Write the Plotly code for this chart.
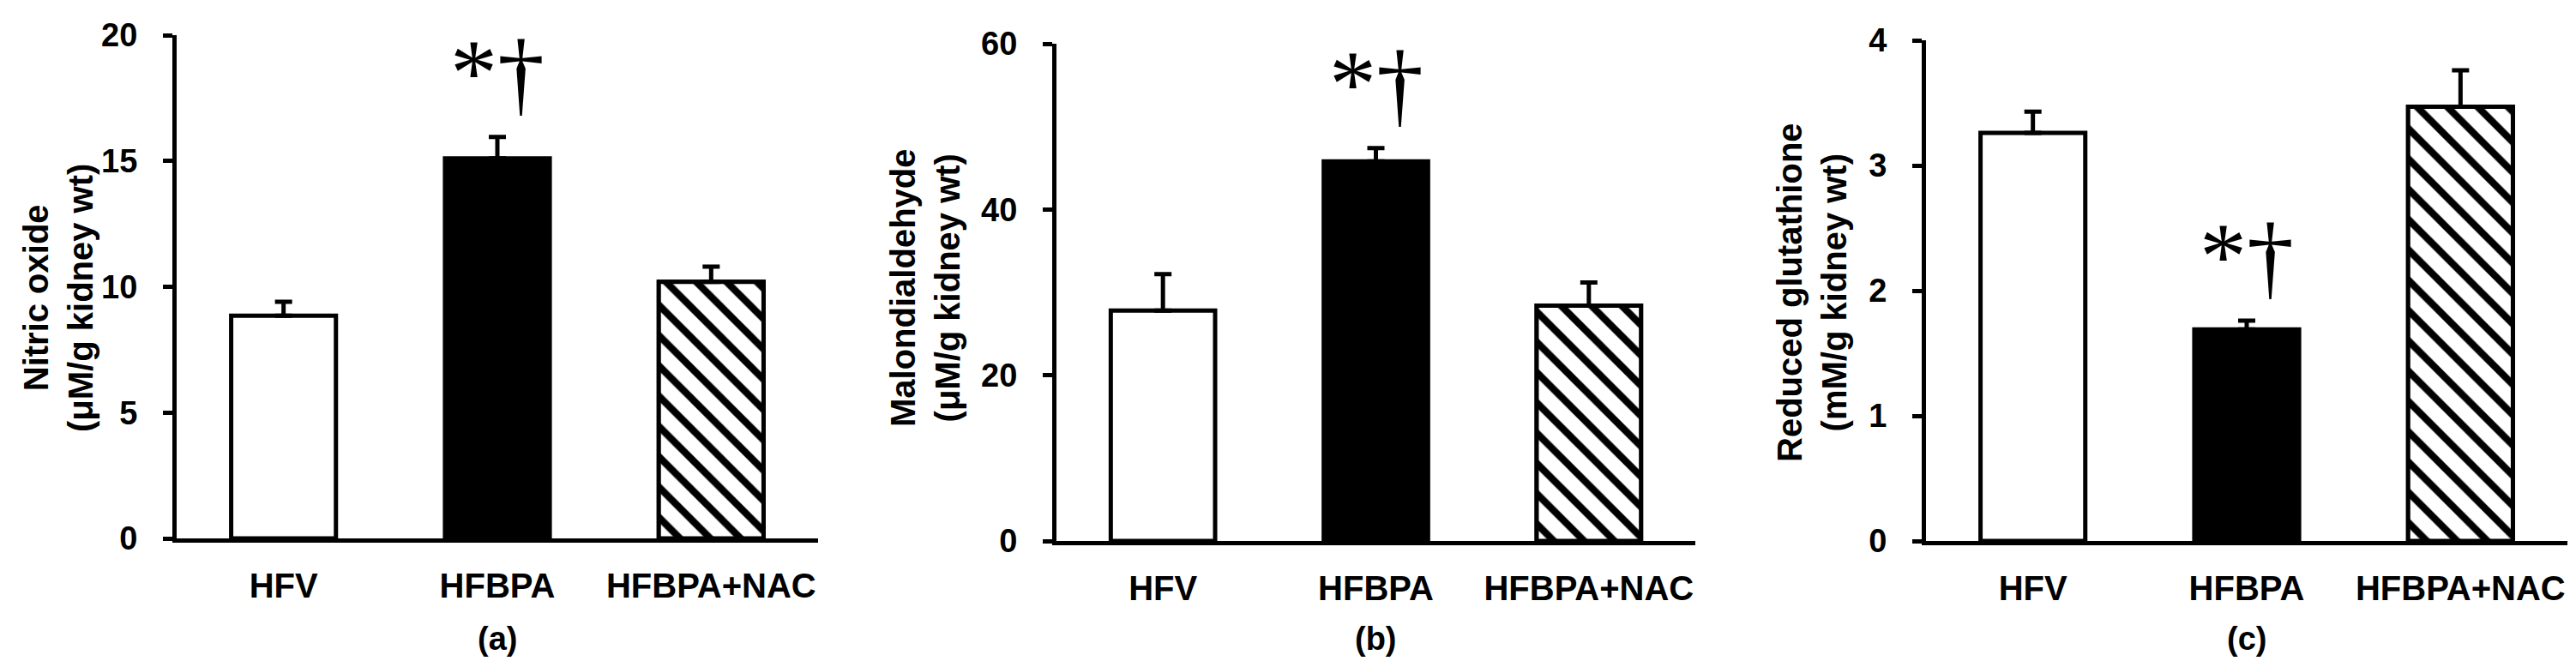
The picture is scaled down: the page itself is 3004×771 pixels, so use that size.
import plotly.graph_objects as go

W, H = 3004, 771

groups = ["HFV", "HFBPA", "HFBPA+NAC"]

nitric_oxide = [8.85, 15.1, 10.2]
nitric_oxide_err = [0.55, 0.85, 0.6]

mda = [27.8, 45.8, 28.4]
mda_err = [4.4, 1.6, 2.8]

gsh = [3.26, 1.69, 3.47]
gsh_err = [0.17, 0.07, 0.29]

y_titles = ["Nitric oxide<br>(μM/g kidney wt)",
            "Malondialdehyde<br>(μM/g kidney wt)",
            "Reduced glutathione<br>(mM/g kidney wt)"]
panel_tags = ["(a)", "(b)", "(c)"]
sig_label = "*†"
y_max = [20, 60, 4]
y_step = [5, 20, 1]

# plot boxes in pixels: left, right, top, bottom (zero line)
boxes = [(198, 946, 33, 620), (1224, 1969, 43, 623), (2238, 2986, 39, 623)]
title_pos = [(60, 340), (1071, 328), (2105, 333)]

FONT = "Liberation Sans, Arial, sans-serif"


def px_x(v):
    return v / W


def px_y(v):
    return 1 - v / H


fig = go.Figure()
series = [(nitric_oxide, nitric_oxide_err), (mda, mda_err), (gsh, gsh_err)]

for i, (vals, errs) in enumerate(series):
    n = i + 1
    xa = "x" if n == 1 else f"x{n}"
    ya = "y" if n == 1 else f"y{n}"
    # plain bars (white / black)
    fig.add_trace(go.Bar(
        x=groups, y=vals, width=0.49,
        xaxis=xa, yaxis=ya,
        marker=dict(color=["white", "black", "white"],
                    line=dict(color="black", width=5)),
        showlegend=False,
    ))
    # hatched bar for the NAC group, drawn on top
    fig.add_trace(go.Bar(
        x=groups[2:], y=vals[2:], width=0.49,
        xaxis=xa, yaxis=ya,
        marker=dict(color="white", line=dict(color="black", width=5),
                    pattern=dict(shape="\\", fgcolor="black", bgcolor="white",
                                 fgopacity=1, size=25, solidity=0.33)),
        showlegend=False,
    ))
    # error bars (upper side only)
    fig.add_trace(go.Bar(
        x=groups, y=vals, width=0.49,
        xaxis=xa, yaxis=ya,
        marker=dict(color="rgba(0,0,0,0)", line=dict(width=0)),
        error_y=dict(type="data", symmetric=False, array=errs,
                     arrayminus=[0] * len(errs), color="black",
                     thickness=5, width=10),
        showlegend=False, hoverinfo="skip",
    ))

    l, r, t, b = boxes[i]
    xkey = "xaxis" if n == 1 else f"xaxis{n}"
    ykey = "yaxis" if n == 1 else f"yaxis{n}"
    fig.update_layout({
        xkey: dict(domain=[px_x(l), px_x(r)], anchor=ya, showline=True,
                   linecolor="black", linewidth=5, ticks="", showgrid=False,
                   zeroline=False, ticklabelstandoff=16, automargin=False,
                   tickfont=dict(family=FONT, size=40, color="black", weight="bold")),
        ykey: dict(domain=[px_y(b), px_y(t)], anchor=xa, range=[0, y_max[i]],
                   dtick=y_step[i], showline=True, linecolor="black", linewidth=5,
                   ticks="outside", ticklen=11, tickwidth=5, tickcolor="black",
                   showgrid=False, zeroline=False, ticklabelstandoff=22,
                   automargin=False,
                   tickfont=dict(family=FONT, size=38, color="black", weight="bold")),
    })

    # y-axis title
    tx, ty = title_pos[i]
    fig.add_annotation(xref="paper", yref="paper", x=px_x(tx), y=px_y(ty),
                       text=y_titles[i], textangle=-90, showarrow=False,
                       xanchor="center", yanchor="middle",
                       font=dict(family=FONT, size=40, color="black", weight="bold"))
    # panel tag
    fig.add_annotation(xref="paper", yref="paper", x=px_x((l + r) / 2), y=px_y(737),
                       text=panel_tags[i], showarrow=False,
                       xanchor="center", yanchor="middle",
                       font=dict(family=FONT, size=38, color="black", weight="bold"))
    # significance mark above HFBPA
    fig.add_annotation(xref=xa, yref=ya, x=groups[1], y=vals[1] + errs[1],
                       text=sig_label, showarrow=False,
                       xanchor="center", yanchor="bottom", yshift=12,
                       font=dict(family="Liberation Serif, Times New Roman, serif",
                                 size=110, color="black"))

fig.update_layout(
    template="none",
    width=W, height=H,
    margin=dict(l=0, r=0, t=0, b=0, autoexpand=False),
    paper_bgcolor="white", plot_bgcolor="white",
    barmode="overlay",
)

fig.write_html("out.html")
